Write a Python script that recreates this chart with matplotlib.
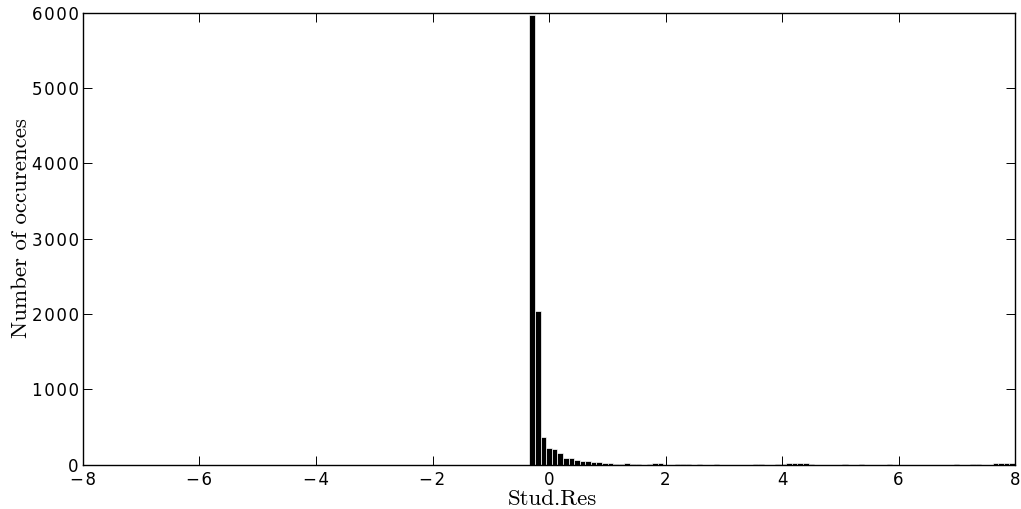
import numpy as np
import matplotlib
matplotlib.use("Agg")
import matplotlib.pyplot as plt

# Histogram of studentized residuals: equal-width bins starting at bin_start
bin_start = -0.335
bin_width = 0.0958
counts = [
    5970, 2040, 370, 218, 212, 150, 86, 92, 62, 42,
    40, 32, 28, 18, 14, 12, 10, 22, 10, 6,
    0, 8, 14, 14, 0, 0, 6, 12, 10, 0,
    10, 0, 0, 8, 0, 0, 0, 0, 0, 0,
    10, 8, 0, 0, 6, 10, 25, 25, 22, 14,
    8, 0, 0, 0, 0, 0, 3, 0, 0, 3,
    0, 0, 0, 0, 12, 0, 0, 0, 0, 0,
    0, 0, 0, 0, 0, 0, 3, 0, 0, 3,
    3, 0, 0, 14, 14, 14, 14,
]
x_ticks = [-8, -6, -4, -2, 0, 2, 4, 6, 8]
y_ticks = [0, 1000, 2000, 3000, 4000, 5000, 6000]


def spaced(s):
    # slightly letter-spaced tick labels
    return "\u200a".join(s)


edges = bin_start + bin_width * np.arange(len(counts) + 1)

fig = plt.figure(figsize=(10.21, 5.09), dpi=100)
ax = fig.add_axes([83 / 1021, 1 - 464.5 / 509, (1015 - 83) / 1021, (464.5 - 13) / 509])

ax.bar(edges[:-1], counts, width=bin_width, align="edge",
       facecolor="black", edgecolor="white", linewidth=0.5)

ax.set_xlim(-8, 8)
ax.set_ylim(0, 6000)
ax.set_xticks(x_ticks)
ax.set_yticks(y_ticks)
ax.set_xticklabels([spaced(f"{t:d}".replace("-", "\u2212")) for t in x_ticks])
ax.set_yticklabels([spaced(str(t)) for t in y_ticks])

ax.tick_params(direction="in", top=True, right=True, length=6.5, width=0.7,
               labelsize=12, colors="black")
ax.tick_params(axis="x", pad=5)
ax.tick_params(axis="y", pad=3)
for s in ax.spines.values():
    s.set_linewidth(1.0)

ax.set_xlabel("Stud.Res", fontfamily="cmr10", fontsize=16.5)
ax.set_ylabel("Number of occurences", fontfamily="cmr10", fontsize=16.5)
ax.xaxis.set_label_coords(0.504, -0.056)
ax.yaxis.set_label_coords(-0.056, 0.524)

fig.savefig("out.png", dpi=100)
